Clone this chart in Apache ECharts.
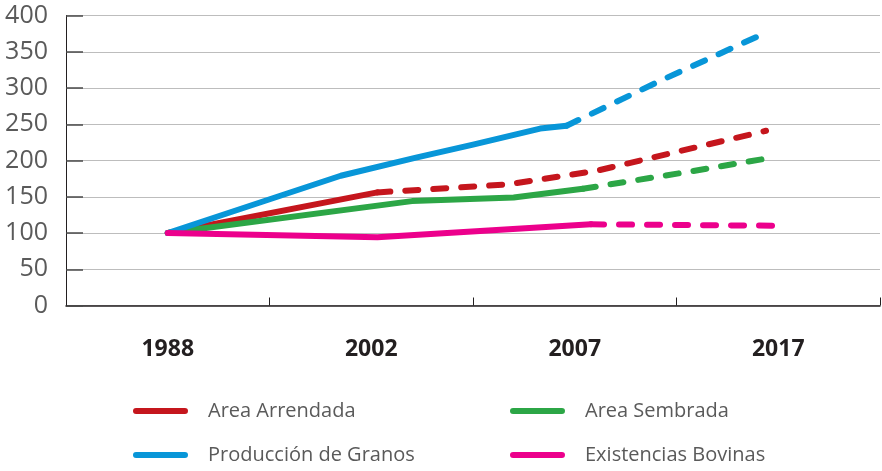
<!DOCTYPE html>
<html>
<head>
<meta charset="utf-8">
<script src="https://cdn.jsdelivr.net/npm/echarts@6/dist/echarts.min.js"></script>
<style>
  html, body { margin: 0; padding: 0; background: #ffffff; }
  #chart { width: 882px; height: 471px; }
</style>
</head>
<body>
<div id="chart"></div>
<script>
// Period labels on the horizontal axis
const years = ['1988', '2002', '2007', '2017'];

// Index values (1988 = 100). Points are [position along the period axis, index];
// position 0 = 1988, 1 = 2002, 2 = 2007, 3 = 2017.
// "Real" = observed (solid), "Proy" = projected (dashed).
const arrendadaReal = [[0, 100], [1.03, 156]];
const arrendadaProy = [[1.03, 156], [1.67, 167], [2.11, 186], [2.94, 241]];

const sembradaReal = [[0, 100], [1.2, 144], [1.7, 149], [2.04, 161]];
const sembradaProy = [[2.04, 161], [2.55, 184], [2.99, 205]];

const granosReal = [[0, 100], [0.85, 179], [1.22, 204], [1.5, 222], [1.83, 244], [1.96, 248]];
const granosProy = [[1.96, 248], [2.42, 310], [2.89, 370]];

const bovinasReal = [[0, 100], [1.03, 94], [2.08, 112]];
const bovinasProy = [[2.08, 112], [3.0, 110]];

const yMin = 0, yMax = 400, yStep = 50;

const names = ['Area Arrendada', 'Area Sembrada', 'Producción de Granos', 'Existencias Bovinas'];
const colors = {
  'Area Arrendada': '#c5161d',
  'Area Sembrada': '#2ca646',
  'Producción de Granos': '#0896d8',
  'Existencias Bovinas': '#ec008c'
};

function lineSeries(name, data, dashed) {
  return {
    name: name,
    type: 'line',
    xAxisIndex: 1,
    data: data,
    showSymbol: false,
    symbol: 'none',
    smooth: false,
    color: colors[name],
    lineStyle: {
      color: colors[name],
      width: 6,
      cap: 'round',
      join: 'round',
      type: dashed ? [13, 15] : 'solid'
    },
    z: dashed ? 3 : 4
  };
}

const pillIcon = 'path://M3,0L51,0A3,3,0,0,1,51,6L3,6A3,3,0,0,1,3,0Z';

function legendAt(name, left, top) {
  return {
    data: [{ name: name, icon: pillIcon, itemStyle: { color: colors[name], borderWidth: 0 } }],
    left: left,
    top: top,
    itemWidth: 55,
    itemHeight: 7,
    padding: 0,
    textStyle: {
      fontFamily: 'Open Sans',
      fontSize: 20,
      color: '#5a5a5a',
      padding: [0, 0, 0, 15]
    }
  };
}

const chart = echarts.init(document.getElementById('chart'), null, { renderer: 'canvas' });

chart.setOption({
  animation: false,
  backgroundColor: '#ffffff',
  grid: { left: 66, right: 2, top: 15.5, bottom: 165.5, containLabel: false },
  legend: [
    legendAt(names[0], 133, 401),
    legendAt(names[1], 510, 401),
    legendAt(names[2], 133, 445),
    legendAt(names[3], 510, 445)
  ],
  xAxis: [
    {
      type: 'category',
      data: years,
      boundaryGap: true,
      axisLine: { show: true, onZero: false, lineStyle: { color: '#231f20', width: 1.5 } },
      axisTick: { show: true, inside: true, length: 8, lineStyle: { color: '#231f20', width: 1 } },
      axisLabel: {
        margin: 32,
        fontFamily: 'Open Sans',
        fontWeight: 'bold',
        fontSize: 23,
        color: '#231f20'
      },
      splitLine: { show: false }
    },
    {
      type: 'value',
      min: -0.5,
      max: 3.5,
      show: false
    }
  ],
  yAxis: {
    type: 'value',
    min: yMin,
    max: yMax,
    interval: yStep,
    axisLine: { show: true, onZero: false, lineStyle: { color: '#231f20', width: 1 } },
    axisTick: { show: true, inside: true, length: 17, lineStyle: { color: '#4a4a4a', width: 1.5 } },
    axisLabel: {
      margin: 18,
      fontFamily: 'Open Sans',
      fontSize: 25,
      color: '#5a5a5a'
    },
    splitLine: { show: true, lineStyle: { color: '#bdbdbd', width: 1.2 } }
  },
  series: [
    lineSeries(names[0], arrendadaProy, true),
    lineSeries(names[1], sembradaProy, true),
    lineSeries(names[2], granosProy, true),
    lineSeries(names[3], bovinasProy, true),
    lineSeries(names[0], arrendadaReal, false),
    lineSeries(names[1], sembradaReal, false),
    lineSeries(names[2], granosReal, false),
    lineSeries(names[3], bovinasReal, false)
  ]
});
</script>
</body>
</html>
